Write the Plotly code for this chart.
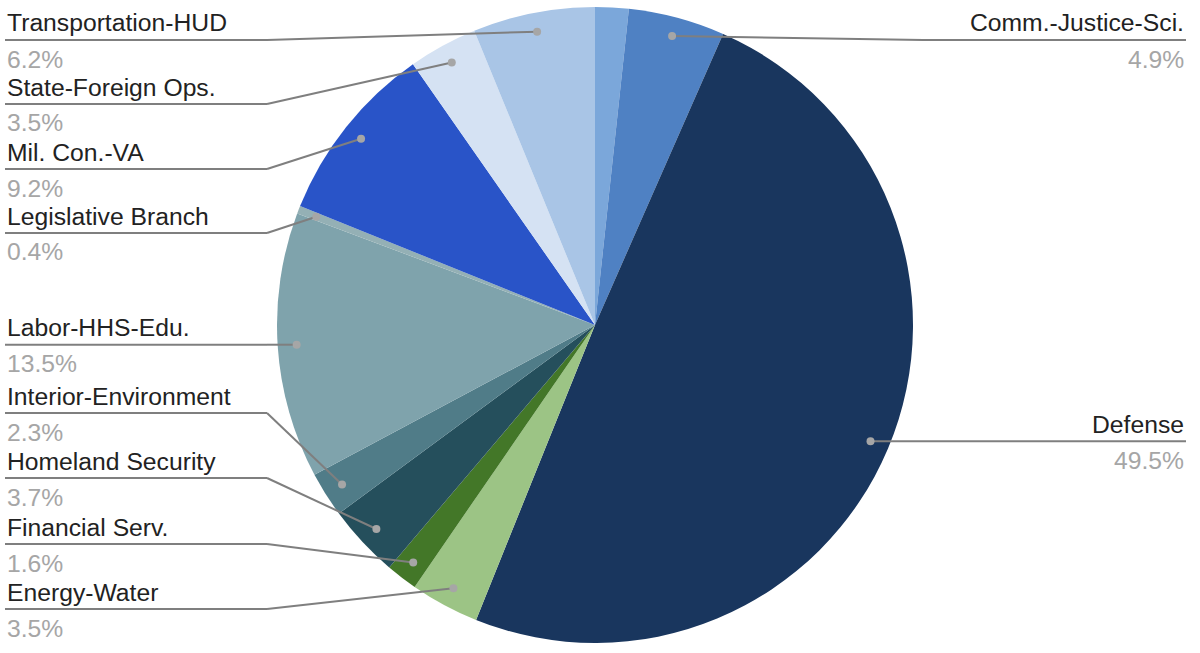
import math
import plotly.graph_objects as go

# ---- data ----
categories = ["Agriculture", "Comm.-Justice-Sci.", "Defense", "Energy-Water", "Financial Serv.",
              "Homeland Security", "Interior-Environment", "Labor-HHS-Edu.", "Legislative Branch",
              "Mil. Con.-VA", "State-Foreign Ops.", "Transportation-HUD"]
shares = [1.7, 4.9, 49.5, 3.5, 1.6, 3.7, 2.3, 13.5, 0.4, 9.2, 3.5, 6.2]
pct_labels = ["", "4.9%", "49.5%", "3.5%", "1.6%", "3.7%", "2.3%", "13.5%", "0.4%", "9.2%", "3.5%", "6.2%"]
colors = ["#7BA7DA", "#4F81C3", "#19365E", "#9CC485", "#437728", "#254F5C", "#507C88",
          "#7FA3AC", "#94B0B5", "#2954C8", "#D5E2F3", "#A9C5E6"]

# ---- layout geometry (pixels) ----
W, H = 1200, 653
CX, CY, R = 595, 325, 318
DOT_R = 299
# label side / leader line y (None = follow the dot)
label_side = [None, "right", "right", "left", "left", "left", "left", "left", "left", "left", "left", "left"]
label_line_y = [None, 40, None, 609, 544, 478, 413, None, 233, 169, 104, 40]

def px(x):
    return x / W

def py(y):
    return 1 - y / H

fig = go.Figure()
fig.add_trace(go.Pie(
    labels=categories, values=shares, sort=False, direction="clockwise", rotation=0,
    marker=dict(colors=colors, line=dict(width=0)), textinfo="none", hoverinfo="label+percent",
    domain=dict(x=[px(CX - R), px(CX + R)], y=[py(CY + R), py(CY - R)]),
    showlegend=False,
))

shapes = []
annotations = []
total = sum(shares)
cum = 0.0
LINE_COL = "#7f7f7f"
FONT = "Liberation Sans, Arial"
FS = 24.7
for i, (cat, v) in enumerate(zip(categories, shares)):
    mid = (cum + v / 2) / total
    cum += v
    side = label_side[i]
    if side is None:
        continue
    th = 2 * math.pi * mid
    dx = CX + DOT_R * math.sin(th)
    dy = CY - DOT_R * math.cos(th)
    ly = label_line_y[i] if label_line_y[i] is not None else dy
    if side == "left":
        elbow_x, end_x, xanchor = 267, 5, "left"
    else:
        elbow_x, end_x, xanchor = 923, 1186, "right"
    if side == "right" and label_line_y[i] is None:
        elbow_x = dx
    shapes.append(dict(type="line", xref="paper", yref="paper", x0=px(dx), y0=py(dy),
                       x1=px(elbow_x), y1=py(ly), line=dict(color=LINE_COL, width=2)))
    shapes.append(dict(type="line", xref="paper", yref="paper", x0=px(elbow_x), y0=py(ly),
                       x1=px(end_x), y1=py(ly), line=dict(color=LINE_COL, width=2)))
    shapes.append(dict(type="circle", xref="paper", yref="paper",
                       x0=px(dx - 4), x1=px(dx + 4), y0=py(dy + 4), y1=py(dy - 4),
                       fillcolor="#a6a6a6", line=dict(width=0)))
    annotations.append(dict(x=px(end_x), y=py(ly - 17), xref="paper", yref="paper",
                            text=cat, showarrow=False, xanchor=xanchor, yanchor="middle",
                            font=dict(family=FONT, size=FS, color="#222222")))
    annotations.append(dict(x=px(end_x), y=py(ly + 19), xref="paper", yref="paper",
                            text=pct_labels[i], showarrow=False, xanchor=xanchor, yanchor="middle",
                            font=dict(family=FONT, size=FS, color="#a6a6a6")))

fig.update_layout(
    width=W, height=H, margin=dict(l=0, r=0, t=0, b=0),
    paper_bgcolor="white", plot_bgcolor="white",
    shapes=shapes, annotations=annotations,
)
fig.write_html("out.html", config={"displayModeBar": False},
               post_script="document.body.style.margin='0';document.body.style.overflow='hidden';")
